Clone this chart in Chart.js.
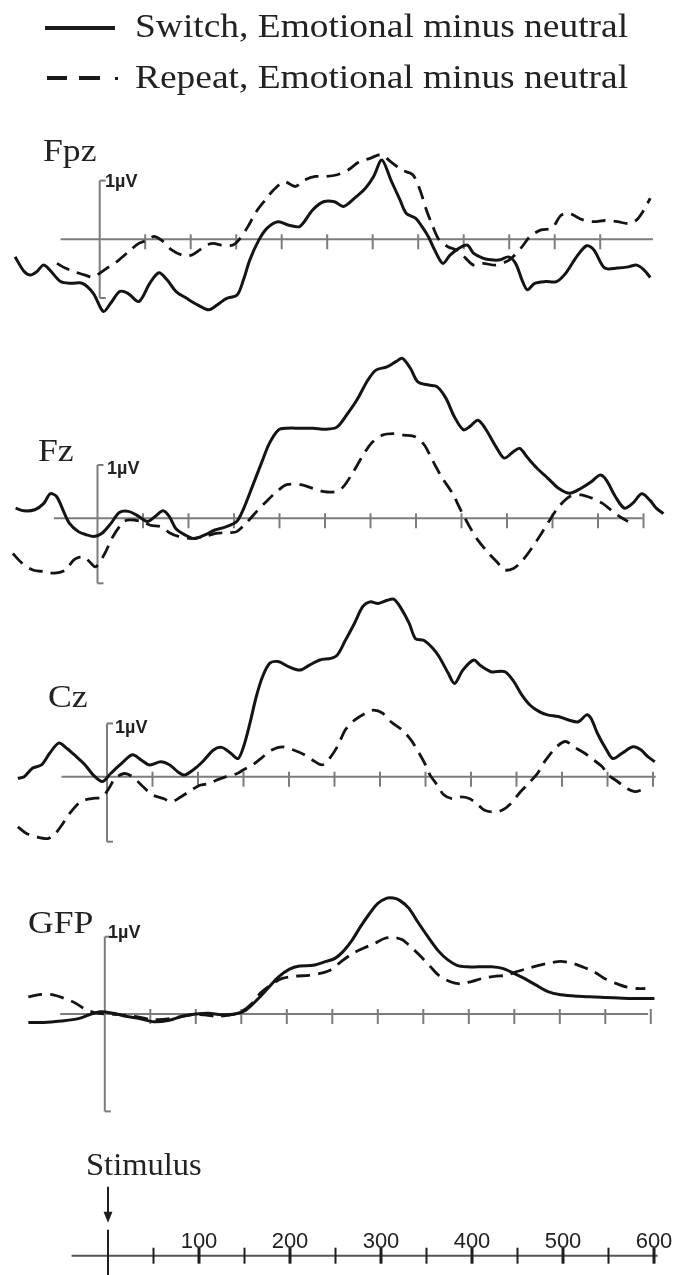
<!DOCTYPE html>
<html>
<head>
<meta charset="utf-8">
<script src="https://cdn.jsdelivr.net/npm/chart.js@4.4.1/dist/chart.umd.min.js"></script>
<style>
  body { margin: 0; background: #fff; }
  #wrap { position: relative; width: 680px; height: 1275px; overflow: hidden; }
  #wrap canvas { position: absolute; left: 0; top: 0; }
  .serif { position: absolute; font-family: "Liberation Serif", "Times New Roman", serif; color: #222;
           line-height: 1; white-space: nowrap; transform-origin: 0 0; }
  .uv { position: absolute; font-family: "Liberation Sans", Arial, sans-serif; font-weight: bold; font-size: 18px;
        color: #222; line-height: 1; white-space: nowrap; }
  .tick { position: absolute; font-family: "Liberation Sans", Arial, sans-serif; font-size: 22px; color: #222;
          line-height: 1; transform: translateX(-50%); }
  .key { position: absolute; background: #1a1a1a; }
</style>
</head>
<body>
<div id="wrap">
  <canvas id="eeg" width="680" height="1275"></canvas>

  <div class="key" style="left:45px; top:26px; width:70px; height:4px;"></div>
  <div class="key" style="left:47px; top:76px; width:20px; height:4px;"></div>
  <div class="key" style="left:79px; top:76px; width:21px; height:4px;"></div>
  <div class="key" style="left:115px; top:77px; width:3px; height:3px;"></div>
  <div class="serif" style="left:135px; top:10px; font-size:33px; transform:scaleX(1.135);">Switch, Emotional minus neutral</div>
  <div class="serif" style="left:135px; top:61px; font-size:33px; transform:scaleX(1.135);">Repeat, Emotional minus neutral</div>

  <div class="serif" style="left:43px; top:135px; font-size:31px; transform:scaleX(1.15);">Fpz</div>
  <div class="serif" style="left:38px; top:435px; font-size:31px; transform:scaleX(1.15);">Fz</div>
  <div class="serif" style="left:48px; top:681px; font-size:31px; transform:scaleX(1.15);">Cz</div>
  <div class="serif" style="left:28px; top:907px; font-size:31px; transform:scaleX(1.15);">GFP</div>
  <div class="serif" style="left:86px; top:1149px; font-size:31px; transform:scaleX(1.05);">Stimulus</div>

  <div class="uv" style="left:105px; top:172px;">1µV</div>
  <div class="uv" style="left:107px; top:459px;">1µV</div>
  <div class="uv" style="left:115px; top:718px;">1µV</div>
  <div class="uv" style="left:108px; top:923px;">1µV</div>
</div>

<script>
// Difference waves (emotional minus neutral), time in ms, amplitude in µV
const fpzSwitchMs = [-93,-83,-76,-69,-62,-55,-43,-31,-19,-7,4,12,22,31,43,55,65,74,84,96,108,120,129,139,151,158,165,175,184,196,208,220,234,246,258,268,280,292,301,310,320,330,337,347,354,361,368,377,385,395,404,411,421,430,440,449,457,464,470,478,490,502,512,524,535,543,555,569,581,590,598,605];
const fpzSwitchUv = [-0.30,-0.55,-0.61,-0.55,-0.44,-0.52,-0.72,-0.75,-0.75,-0.92,-1.23,-1.09,-0.89,-0.92,-1.06,-0.75,-0.57,-0.69,-0.89,-1.01,-1.12,-1.20,-1.12,-1.01,-0.95,-0.69,-0.35,-0.01,0.19,0.30,0.24,0.22,0.50,0.64,0.64,0.56,0.70,0.87,1.07,1.35,1.01,0.67,0.44,0.36,0.22,0.05,-0.18,-0.41,-0.27,-0.15,-0.10,-0.24,-0.32,-0.35,-0.35,-0.30,-0.41,-0.69,-0.86,-0.75,-0.72,-0.72,-0.58,-0.30,-0.11,-0.18,-0.49,-0.49,-0.47,-0.44,-0.52,-0.65];
const fpzRepeatMs = [-47,-38,-28,-16,-7,8,19,34,43,53,60,70,79,91,101,110,117,125,134,146,153,163,172,182,191,203,215,225,237,249,261,273,285,297,309,320,332,344,352,359,366,373,383,392,402,411,421,435,447,454,464,473,485,497,507,516,531,543,555,569,581,590,598,605];
const fpzRepeatUv = [-0.41,-0.49,-0.55,-0.61,-0.64,-0.49,-0.38,-0.18,-0.07,-0.01,0.05,-0.04,-0.18,-0.27,-0.27,-0.18,-0.10,-0.07,-0.10,-0.10,-0.01,0.22,0.47,0.67,0.84,0.98,0.90,1.01,1.07,1.07,1.10,1.18,1.32,1.38,1.44,1.32,1.18,1.10,0.84,0.50,0.22,-0.01,-0.13,-0.18,-0.32,-0.44,-0.41,-0.44,-0.38,-0.30,-0.13,0.05,0.16,0.19,0.41,0.44,0.33,0.30,0.32,0.30,0.27,0.33,0.50,0.70];

const fzSwitchMs = [-90,-81,-69,-59,-52,-45,-38,-31,-21,-12,-4,5,15,24,34,43,55,63,72,79,86,96,106,118,129,141,153,160,170,180,189,199,208,223,237,251,263,275,285,297,306,318,328,335,344,352,364,373,383,392,402,409,418,426,438,447,457,464,473,483,495,507,519,531,543,552,559,569,579,588,598,607,614,622];
const fzSwitchUv = [0.19,0.14,0.16,0.28,0.46,0.41,0.16,-0.09,-0.25,-0.31,-0.34,-0.28,-0.09,0.11,0.13,0.06,-0.06,0.03,0.14,0.03,-0.19,-0.31,-0.38,-0.31,-0.22,-0.16,-0.06,0.16,0.59,1.03,1.41,1.66,1.69,1.69,1.69,1.67,1.71,1.97,2.22,2.59,2.78,2.84,2.94,3.00,2.81,2.56,2.50,2.47,2.25,1.91,1.66,1.72,1.84,1.69,1.34,1.13,1.25,1.31,1.13,0.94,0.75,0.56,0.47,0.56,0.69,0.81,0.72,0.41,0.19,0.28,0.46,0.34,0.19,0.09];
const fzRepeatMs = [-93,-83,-71,-59,-47,-35,-26,-16,-9,-2,8,17,29,36,48,58,70,79,89,103,118,132,144,153,165,175,187,199,208,223,237,249,261,270,280,290,301,313,325,337,349,359,368,378,390,399,409,418,430,440,447,457,466,476,488,497,507,519,531,543,555,564,574,583];
const fzRepeatUv = [-0.66,-0.84,-0.97,-1.00,-1.03,-0.97,-0.78,-0.72,-0.81,-0.91,-0.66,-0.34,-0.06,-0.03,-0.06,-0.13,-0.16,-0.27,-0.34,-0.38,-0.34,-0.28,-0.27,-0.25,-0.06,0.13,0.34,0.53,0.63,0.63,0.56,0.50,0.50,0.59,0.84,1.13,1.41,1.56,1.59,1.56,1.53,1.38,1.09,0.78,0.47,0.16,-0.16,-0.41,-0.66,-0.84,-0.97,-0.94,-0.81,-0.59,-0.28,-0.03,0.22,0.41,0.44,0.38,0.28,0.16,0.03,-0.06];

const czSwitchMs = [-98,-91,-82,-72,-63,-53,-44,-34,-24,-15,-5,4,16,28,38,47,59,69,78,85,95,105,117,126,136,144,150,157,164,171,179,188,200,212,222,234,246,253,262,272,281,289,298,308,315,322,332,339,348,358,365,375,382,391,403,410,422,437,446,456,465,475,484,496,508,518,527,532,539,549,556,566,578,587,594,602];
const czSwitchUv = [-0.03,0.00,0.16,0.22,0.44,0.63,0.53,0.38,0.22,0.03,-0.09,0.06,0.25,0.41,0.31,0.22,0.28,0.22,0.09,0.03,0.13,0.28,0.50,0.55,0.44,0.34,0.56,1.00,1.50,1.88,2.13,2.16,2.06,2.00,2.09,2.19,2.22,2.28,2.56,2.88,3.19,3.28,3.25,3.31,3.33,3.19,2.88,2.59,2.56,2.41,2.25,1.94,1.75,2.00,2.19,2.09,1.97,1.97,1.81,1.53,1.34,1.22,1.16,1.13,1.06,1.03,1.16,1.09,0.81,0.50,0.34,0.44,0.56,0.50,0.38,0.28];
const czRepeatMs = [-98,-89,-77,-65,-58,-51,-41,-29,-17,-5,2,9,19,28,38,50,62,71,81,93,102,112,121,131,143,150,160,169,181,193,205,217,226,236,243,253,262,272,284,293,303,312,324,334,343,351,355,363,370,379,389,398,406,415,425,434,444,453,463,473,482,494,504,513,525,535,544,551,561,571,580,587,594];
const czRepeatUv = [-0.94,-1.06,-1.13,-1.16,-1.09,-0.94,-0.69,-0.47,-0.41,-0.38,-0.22,-0.03,0.06,0.00,-0.16,-0.34,-0.41,-0.47,-0.38,-0.25,-0.16,-0.13,-0.06,0.00,0.06,0.13,0.22,0.34,0.50,0.56,0.50,0.41,0.31,0.22,0.31,0.56,0.88,1.06,1.19,1.25,1.19,1.03,0.88,0.69,0.44,0.19,0.03,-0.16,-0.34,-0.41,-0.38,-0.41,-0.50,-0.63,-0.66,-0.63,-0.50,-0.31,-0.13,0.06,0.31,0.56,0.66,0.56,0.44,0.31,0.19,0.03,-0.09,-0.22,-0.28,-0.25,-0.19];

const gfpSwitchMs = [-84,-67,-48,-29,-17,-5,9,23,38,54,71,85,100,114,128,143,155,167,179,191,203,214,229,243,253,262,272,281,291,300,310,317,324,334,344,355,367,377,387,398,410,425,437,449,461,473,487,501,520,540,559,578,604];
const gfpSwitchUv = [-0.11,-0.11,-0.09,-0.06,-0.01,0.03,0.01,-0.03,-0.06,-0.10,-0.08,-0.03,0.00,0.01,-0.01,0.00,0.05,0.18,0.33,0.48,0.58,0.62,0.63,0.68,0.72,0.81,0.96,1.13,1.30,1.43,1.50,1.50,1.47,1.37,1.19,1.00,0.81,0.70,0.63,0.61,0.61,0.61,0.59,0.53,0.46,0.38,0.29,0.25,0.23,0.22,0.21,0.20,0.20];
const gfpRepeatMs = [-84,-72,-58,-44,-32,-21,-8,4,19,33,50,64,81,95,109,124,138,150,162,171,183,195,210,224,238,248,260,272,284,296,308,317,327,336,346,358,367,379,391,403,415,430,441,453,465,477,489,501,513,525,537,549,561,573,585,594];
const gfpRepeatUv = [0.22,0.25,0.25,0.20,0.14,0.06,0.01,0.00,-0.01,-0.03,-0.07,-0.07,-0.04,-0.01,-0.01,-0.03,-0.01,0.03,0.14,0.27,0.38,0.46,0.49,0.50,0.53,0.57,0.68,0.78,0.85,0.91,0.98,0.99,0.96,0.87,0.76,0.61,0.50,0.42,0.39,0.42,0.46,0.49,0.50,0.55,0.59,0.63,0.66,0.68,0.66,0.61,0.55,0.46,0.40,0.35,0.33,0.33];

const panelTicksMs = [50, 100, 150, 200, 250, 300, 350, 400, 450, 500, 550, 600];
const timeLabelsMs = [100, 200, 300, 400, 500, 600];

// page layout of each trace panel (pixels)
const PX_PER_MS = 0.91;
const PAGE_W = 680, PAGE_H = 1275;
const PANELS = [
  { id: 'Fpz', zeroPx: 99.7,  axisPx: 239.3,  pxPerUv: 58.7, from: -43, to: 608, lastTick: 550, barEnd: -1.0,
    sw: [fpzSwitchMs, fpzSwitchUv], rp: [fpzRepeatMs, fpzRepeatUv] },
  { id: 'Fz',  zeroPx: 97.5,  axisPx: 518.3,  pxPerUv: 53.3, from: -48, to: 599, lastTick: 600, barEnd: -1.22,
    sw: [fzSwitchMs, fzSwitchUv], rp: [fzRepeatMs, fzRepeatUv] },
  { id: 'Cz',  zeroPx: 107,   axisPx: 776.7,  pxPerUv: 53.3, from: -50, to: 603, lastTick: 600, barEnd: -1.22,
    sw: [czSwitchMs, czSwitchUv], rp: [czRepeatMs, czRepeatUv] },
  { id: 'GFP', zeroPx: 104.8, axisPx: 1014,   pxPerUv: 77.3, from: -49, to: 597, lastTick: 600, barEnd: -1.26,
    sw: [gfpSwitchMs, gfpSwitchUv], rp: [gfpRepeatMs, gfpRepeatUv] },
];
const TIME_AXIS = { zeroPx: 108, axisPx: 1255.7, from: -40, to: 604 };

const INK = '#141414';
const AXIS_GREY = '#7c7c7c';

const toPoints = (ms, uv) => ms.map((t, i) => ({ x: t, y: uv[i] }));

const scales = {
  xTime: { type: 'linear', display: false, bounds: 'data',
           min: -TIME_AXIS.zeroPx / PX_PER_MS, max: (PAGE_W - TIME_AXIS.zeroPx) / PX_PER_MS }
};
const datasets = [];
PANELS.forEach(p => {
  scales['x' + p.id] = { type: 'linear', display: false, bounds: 'data',
                         min: -p.zeroPx / PX_PER_MS, max: (PAGE_W - p.zeroPx) / PX_PER_MS };
  scales['y' + p.id] = { type: 'linear', display: false, bounds: 'data',
                         min: (p.axisPx - PAGE_H) / p.pxPerUv, max: p.axisPx / p.pxPerUv };
  datasets.push({
    label: p.id + ' Repeat', data: toPoints(p.rp[0], p.rp[1]),
    xAxisID: 'x' + p.id, yAxisID: 'y' + p.id,
    borderColor: INK, borderWidth: 2.8, borderDash: [14, 8], pointRadius: 0, tension: 0.3, order: 2
  });
  datasets.push({
    label: p.id + ' Switch', data: toPoints(p.sw[0], p.sw[1]),
    xAxisID: 'x' + p.id, yAxisID: 'y' + p.id,
    borderColor: INK, borderWidth: 3, pointRadius: 0, tension: 0.3, order: 1
  });
});

function seg(ctx, x1, y1, x2, y2) {
  ctx.beginPath();
  ctx.moveTo(x1, y1);
  ctx.lineTo(x2, y2);
  ctx.stroke();
}

// zero lines, 50 ms ticks, 1 µV bars and the stimulus time axis
const eegAxes = {
  id: 'eegAxes',
  beforeDatasetsDraw(chart) {
    const ctx = chart.ctx;
    ctx.save();
    ctx.strokeStyle = AXIS_GREY;
    PANELS.forEach(p => {
      const xs = chart.scales['x' + p.id];
      const ys = chart.scales['y' + p.id];
      const y0 = ys.getPixelForValue(0);
      ctx.lineWidth = 2;
      seg(ctx, xs.getPixelForValue(p.from), y0, xs.getPixelForValue(p.to), y0);
      panelTicksMs.filter(t => t <= p.lastTick).forEach(t => {
        const x = xs.getPixelForValue(t);
        seg(ctx, x, y0 - 5, x, y0 + 10);
      });
      const x0 = xs.getPixelForValue(0);
      const top = ys.getPixelForValue(1);
      const bot = ys.getPixelForValue(p.barEnd);
      seg(ctx, x0, top, x0, bot);
      seg(ctx, x0, top, x0 + 6, top);
      seg(ctx, x0, bot, x0 + 6, bot);
    });

    const xt = chart.scales.xTime;
    const y = TIME_AXIS.axisPx;
    ctx.strokeStyle = '#555';
    ctx.lineWidth = 2;
    seg(ctx, xt.getPixelForValue(TIME_AXIS.from), y, xt.getPixelForValue(TIME_AXIS.to), y);
    ctx.strokeStyle = '#1e1e1e';
    panelTicksMs.forEach(t => {
      const x = xt.getPixelForValue(t);
      ctx.lineWidth = timeLabelsMs.includes(t) ? 3 : 2;
      seg(ctx, x, y - 8, x, y + 8);
    });
    // stimulus onset marker and arrow
    const xs0 = xt.getPixelForValue(0);
    ctx.lineWidth = 2;
    seg(ctx, xs0, y - 26, xs0, PAGE_H);
    seg(ctx, xs0, y - 69, xs0, y - 42);
    ctx.fillStyle = '#1e1e1e';
    ctx.beginPath();
    ctx.moveTo(xs0 - 4.5, y - 44);
    ctx.lineTo(xs0 + 4.5, y - 44);
    ctx.lineTo(xs0, y - 33);
    ctx.closePath();
    ctx.fill();
    ctx.restore();
  }
};

const chart = new Chart(document.getElementById('eeg'), {
  type: 'line',
  data: { datasets },
  options: {
    responsive: false,
    animation: false,
    parsing: false,
    normalized: true,
    layout: { padding: 0, autoPadding: false },
    plugins: { legend: { display: false }, tooltip: { enabled: false }, title: { display: false } },
    scales
  },
  plugins: [eegAxes]
});

// labels of the time axis, placed by the same scale
const wrap = document.getElementById('wrap');
timeLabelsMs.forEach(v => {
  const s = document.createElement('span');
  s.className = 'tick';
  s.textContent = v;
  s.style.left = chart.scales.xTime.getPixelForValue(v) + 'px';
  s.style.top = '1230px';
  wrap.appendChild(s);
});
</script>
</body>
</html>
